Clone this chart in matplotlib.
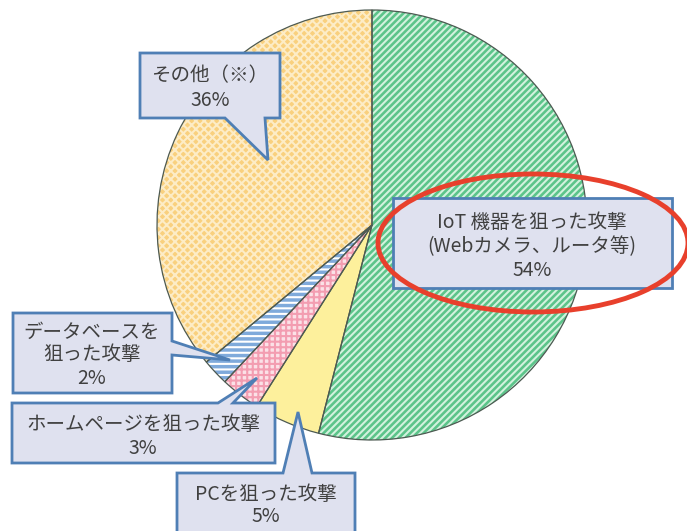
import matplotlib.pyplot as plt
from matplotlib.patches import Polygon, Ellipse

plt.rcParams['font.family'] = ['Noto Sans CJK JP', 'DejaVu Sans']
plt.rcParams['hatch.linewidth'] = 1.5

# データ
categories = ["IoT機器を狙った攻撃\n(Webカメラ、ルータ等)", "PCを狙った攻撃",
              "ホームページを狙った攻撃", "データベースを\n狙った攻撃", "その他（※）"]
values = [54, 5, 3, 2, 36]
face_colors = ["#5cc48a", "#fdf09c", "#fbe1e7", "#7faadb", "#f9d07e"]
hatch_colors = ["#d2f2de", "white", "#f39db1", "white", "#fdecc6"]
hatches = ["/////", "", "+++", "---", "xxxx"]

W, H = 687, 531


def Y(p):
    # 画像の上からのピクセル位置を軸座標に変換
    return H - p


fig = plt.figure(figsize=(W / 100, H / 100), dpi=100)
ax = fig.add_axes([0, 0, 1, 1])

centro = (372, Y(225))
raio = 215

# 塗り + ハッチ（ハッチの色はedgecolorで決まる）
wedges, _ = ax.pie(values, colors=face_colors, startangle=90, counterclock=False,
                   center=centro, radius=raio, frame=True,
                   wedgeprops=dict(linewidth=0))
for w, h, hc in zip(wedges, hatches, hatch_colors):
    w.set_edgecolor(hc)
    w.set_linewidth(0)
    w.set_hatch(h)
# 輪郭線
ax.pie(values, colors=["none"] * len(values), startangle=90, counterclock=False,
       center=centro, radius=raio, frame=True,
       wedgeprops=dict(edgecolor="#4d5a52", linewidth=0.9, fill=False))
ax.set_xlim(0, W)
ax.set_ylim(0, H)
ax.set_aspect('equal')
ax.axis('off')

box_face = "#dfe1ef"
box_edge = "#4f7fb5"
txt_color = "#404040"


def callout(pts):
    poly = Polygon([(x, Y(y)) for x, y in pts], closed=True, facecolor=box_face,
                   edgecolor=box_edge, linewidth=2, zorder=5, joinstyle='miter')
    ax.add_patch(poly)


def linhas(x, ys, textos):
    for y, t in zip(ys, textos):
        ax.text(x, Y(y), t, ha='center', va='center', fontsize=14,
                color=txt_color, zorder=6)


# その他
callout([(140, 53), (280, 53), (280, 118), (265, 118), (268, 160), (225, 118), (140, 118)])
linhas(210, [76, 100], ["その他（※）", f"{values[4]}%"])

# IoT
callout([(393, 198), (672, 198), (672, 288), (393, 288)])
linhas(532, [222, 247, 271], ["IoT 機器を狙った攻撃", "(Webカメラ、ルータ等)", f"{values[0]}%"])

# データベース
callout([(13, 313), (172, 313), (172, 341), (230, 360), (172, 355), (172, 393), (13, 393)])
linhas(92, [332, 355, 378], ["データベースを", "狙った攻撃", f"{values[3]}%"])

# ホームページ
callout([(12, 403), (218, 403), (257, 378), (233, 403), (275, 403), (275, 463), (12, 463)])
linhas(143, [425, 448], ["ホームページを狙った攻撃", f"{values[2]}%"])

# PC
callout([(177, 473), (283, 473), (298, 412), (312, 473), (355, 473), (355, 545), (177, 545)])
linhas(266, [494, 517], ["PCを狙った攻撃", f"{values[1]}%"])

# 赤い楕円
ax.add_patch(Ellipse((533, Y(243)), 310, 138, fill=False, edgecolor="#e8402c",
                     linewidth=3.5, zorder=7))

fig.savefig("out.png", dpi=100)
